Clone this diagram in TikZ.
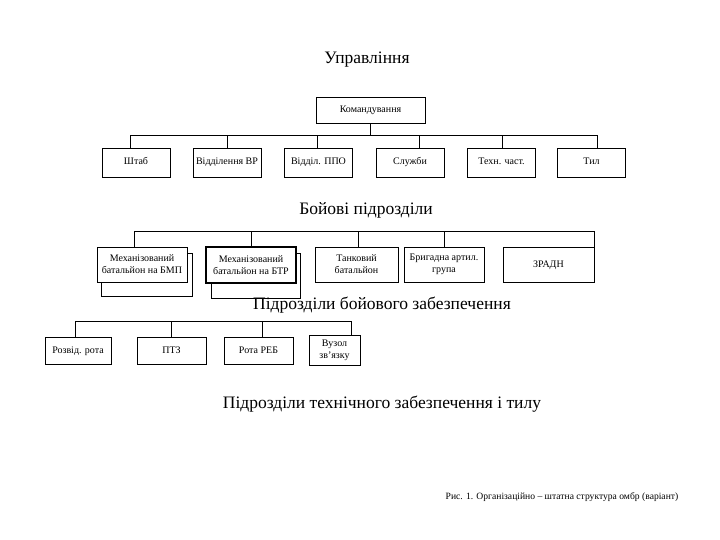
\documentclass[tikz,border=0pt]{standalone}
\usepackage{fontspec}
\setmainfont{Liberation Serif}
\usetikzlibrary{positioning}

\begin{document}
\begin{tikzpicture}[x=1pt,y=-1pt,
    box/.style={draw, fill=white, line width=0.7pt, inner sep=1pt, align=center,
        font=\fontsize{10}{12}\selectfont},
    oneline/.style={text height=7pt, text depth=2pt},
    title/.style={font=\fontsize{17.5}{20}\selectfont},
    link/.style={line width=1pt}]

\useasboundingbox (0,0) rectangle (720,540);

% Titles
\node[title] (tupr) at (367,60) {Управління};
\node[title] (tboy) at (366,210) {Бойові підрозділи};
\node[title] (tzab) at (382,305) {Підрозділи бойового забезпечення};
\node[title] (ttyl) at (382,404) {Підрозділи технічного забезпечення і тилу};
\node[font=\fontsize{9.6}{11}\selectfont] (capt) at (562,497)
    {Рис. 1. Організаційно -- штатна структура омбр (варіант)};

% Management
\node[box, oneline, minimum width=109, minimum height=26] (cmd) at (370.5,110) {Командування};

\foreach \n/\x/\t/\dx in {shtab/136/Штаб/-6, vr/227/Відділення ВР/0, ppo/318.5/Відділ. ППО/-1,
        sluzh/410/Служби/9, tekh/501.5/Техн. част./0.5, tyl/591.5/Тил/5.5} {
    \node[box, oneline, minimum width=68, minimum height=29] (\n) at (\x,162.5) {\t};
    \draw[link] (cmd.south) -- ++(0,12) -| ([xshift=\dx]\n.north);
}

% Combat units
\draw[line width=0.7pt] (101,253) rectangle (192,296);
\draw[line width=0.7pt] (211,253) rectangle (300,298);

\node[box, minimum width=90, minimum height=35] (bmp) at (142,264.5)
    {Механізований\\батальйон на БМП};
\node[box, line width=1.6pt, minimum width=90, minimum height=36] (btr) at (251,265)
    {Механізований\\батальйон на БТР};
\node[box, minimum width=83, minimum height=35] (tank) at (356.5,264.5)
    {Танковий\\батальйон};
\node[box, minimum width=80, minimum height=35] (art) at (444,264.5)
    {Бригадна артил.\\група};
\node[box, oneline, minimum width=91, minimum height=35] (zradn) at (548.5,264.5) {ЗРАДН};

\draw[link] ([xshift=-8]bmp.north) -- ++(0,-15) -| (zradn.north east);
\foreach \n/\dx in {btr/0, tank/1.5, art/0} {
    \draw[link] ([xshift=\dx]\n.north) -- ++(0,-15);
}

% Combat support units
\foreach \n/\x/\w/\t in {razv/78/66/Розвід. рота, ptz/171.5/69/ПТЗ, reb/258.5/69/Рота РЕБ} {
    \node[box, oneline, minimum width=\w, minimum height=27] (\n) at (\x,350.5) {\t};
}
\node[box, minimum width=51, minimum height=30] (vuzol) at (334.5,350) {Вузол\\зв’язку};

\draw[link] ([xshift=-3]razv.north) -- ++(0,-15) -| ([xshift=16.5]vuzol.north);
\foreach \n/\dx in {ptz/0, reb/3.5} {
    \draw[link] ([xshift=\dx]\n.north) -- ++(0,-15);
}

\end{tikzpicture}
\end{document}
